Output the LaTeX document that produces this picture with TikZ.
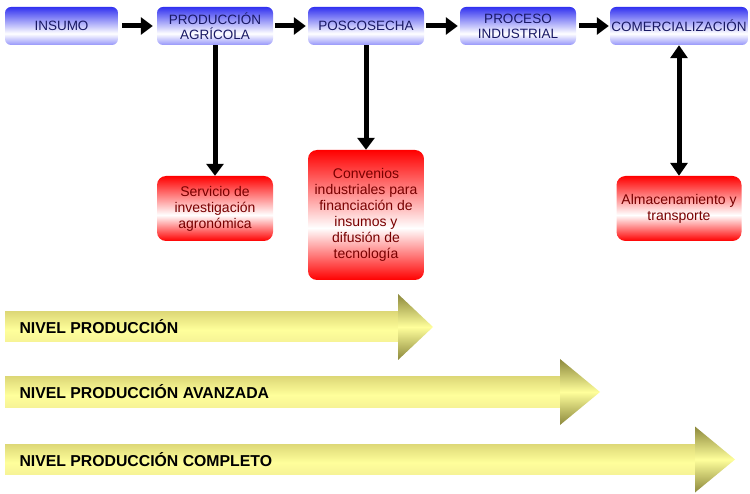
\documentclass[tikz,border=0pt]{standalone}
\usepackage{fontspec}
\setmainfont{Liberation Sans}
\usetikzlibrary{arrows.meta}
\definecolor{btop}{RGB}{50,50,240}
\definecolor{bbot}{RGB}{150,150,250}
\definecolor{btext}{RGB}{25,25,100}
\definecolor{rtext}{RGB}{120,0,0}
\definecolor{ytop}{RGB}{222,217,120}
\definecolor{ymid}{RGB}{255,255,155}
\definecolor{ybot}{RGB}{246,243,150}
\definecolor{yhead}{RGB}{140,136,60}
\pgfdeclareverticalshading{blueboxsh}{100bp}{color(0bp)=(bbot); color(25bp)=(bbot); color(40bp)=(white); color(75bp)=(btop); color(100bp)=(btop)}
\pgfdeclareverticalshading{redboxsh}{100bp}{color(0bp)=(red); color(25bp)=(red); color(45bp)=(white); color(75bp)=(red); color(100bp)=(red)}
\pgfdeclareverticalshading{ybodysh}{100bp}{color(0bp)=(ybot); color(25bp)=(ybot); color(45bp)=(ymid); color(75bp)=(ytop); color(100bp)=(ytop)}
\pgfdeclareverticalshading{yheadsh}{100bp}{color(0bp)=(yhead); color(25bp)=(yhead); color(50bp)=(ymid); color(75bp)=(yhead); color(100bp)=(yhead)}
\tikzset{
  topbox/.style={rounded corners=6pt, shading=blueboxsh, minimum height=38pt, inner sep=1pt,
    align=center, text=btext, font=\fontsize{13.5}{15}\selectfont},
  redbox/.style={rounded corners=9pt, shading=redboxsh, inner sep=2pt,
    align=center, text=rtext, font=\fontsize{14}{16}\selectfont},
  flow/.style={line width=5pt, -{Triangle[width=17pt,length=12pt]}},
  dflow/.style={line width=5pt, {Triangle[width=17pt,length=13pt]}-{Triangle[width=17pt,length=13pt]}},
  ybody/.style={shading=ybodysh, anchor=west, minimum height=30pt, inner sep=0pt, outer sep=0pt},
  yhd/.style={shading=yheadsh},
  ylabel/.style={anchor=west, font=\bfseries\fontsize{15.8}{17}\selectfont, text=black}
}
\begin{document}
\begin{tikzpicture}[x=1pt,y=-1pt]
\useasboundingbox (0,0) rectangle (750,494);
% top row
\node[topbox, minimum width=113pt] (ins) at (61.5,26) {INSUMO};
\node[topbox, minimum width=116pt] (prod) at (215,26) {PRODUCCIÓN\\AGRÍCOLA};
\node[topbox, minimum width=116pt] (pos) at (366,26) {POSCOSECHA};
\node[topbox, minimum width=116pt] (proc) at (518,26) {PROCESO\\INDUSTRIAL};
\node[topbox, minimum width=138pt] (com) at (679,26) {COMERCIALIZACIÓN};
% red boxes
\node[redbox, minimum width=116pt, minimum height=65pt] (serv) at (215,208.5) {Servicio de\\investigación\\agronómica};
\node[redbox, minimum width=116pt, minimum height=130pt] (conv) at (366,215) {Convenios\\industriales para\\financiación de\\insumos y\\difusión de\\tecnología};
\node[redbox, minimum width=125pt, minimum height=65pt] (alm) at (679,208.5) {Almacenamiento y\\transporte};
% connectors
\draw[flow, shorten <=4pt, shorten >=4pt] (ins) -- (prod);
\draw[flow, shorten <=2pt, shorten >=2pt] (prod) -- (pos);
\draw[flow, shorten <=2pt, shorten >=2pt] (pos) -- (proc);
\draw[flow, shorten <=3pt, shorten >=1pt] (proc) -- (com);
\draw[flow] (prod.south) -- (serv.north);
\draw[flow] (pos.south) -- (conv.north);
\draw[dflow] (com.south) -- (alm.north);
% yellow arrows
\foreach \yc/\hx/\tx/\nm/\txt in {327/398/433/a1/NIVEL PRODUCCIÓN, 392/560/600/a2/NIVEL PRODUCCIÓN AVANZADA, 459.5/695/735/a3/NIVEL PRODUCCIÓN COMPLETO}{
  \node[ybody, minimum width={(\hx-5)*1pt}] (b\nm) at (5,\yc) {};
  \begin{scope}[y=1pt]
    \shade[yhd] (\hx,-\yc+33) -- (\tx,-\yc) -- (\hx,-\yc-33) -- cycle;
  \end{scope}
  \node[ylabel] (\nm) at (16,\yc) {\txt};
}
\end{tikzpicture}
\end{document}
